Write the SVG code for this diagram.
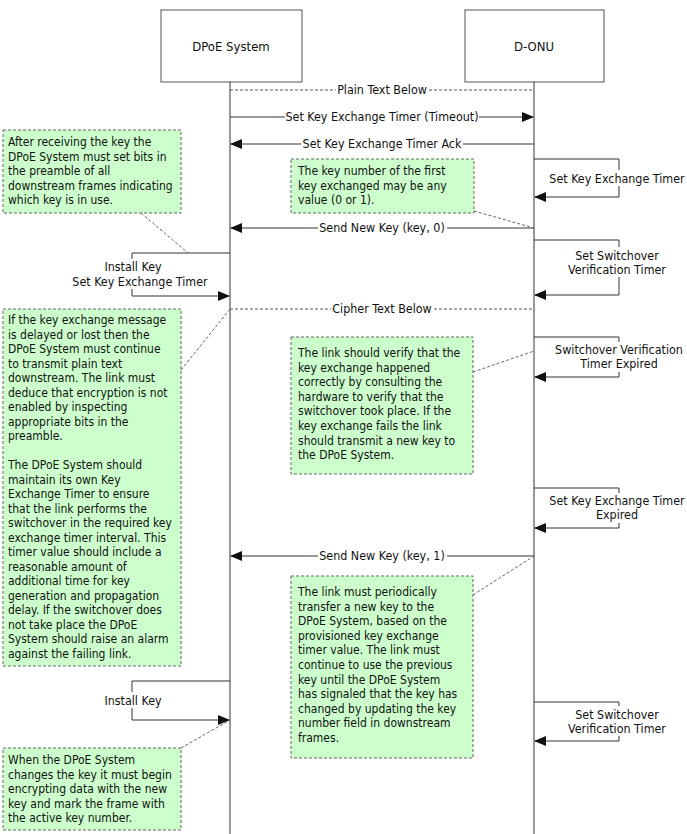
<svg xmlns="http://www.w3.org/2000/svg" width="687" height="834" viewBox="0 0 687 834">
<style>
text{font-family:"DejaVu Sans Condensed","Liberation Sans",sans-serif;font-size:12px;fill:#111}
.m{font-size:12.4px}
.h{font-size:13px}
.box{fill:#fff;stroke:#555;stroke-width:1}
.life{stroke:#333;stroke-width:1}
.msg{stroke:#333;stroke-width:1;fill:none}
.dash{stroke:#555;stroke-width:1;stroke-dasharray:3,2;fill:none}
.note{fill:#ccffcc;stroke:#666;stroke-width:1;stroke-dasharray:3,2}
.nlink{stroke:#666;stroke-width:1;stroke-dasharray:3,2;fill:none}
.c{text-anchor:middle}
</style>
<defs>
<marker id="ah" markerWidth="12" markerHeight="10" refX="11" refY="5" orient="auto" markerUnits="userSpaceOnUse">
<path d="M0,0 L12,5 L0,10 z" fill="#111"/>
</marker>
</defs>
<rect width="687" height="834" fill="#fff"/>

<g id="dpoe">
<rect class="box" x="161" y="10" width="141" height="72"/>
<text class="c h" x="231" y="51">DPoE System</text>
<line class="life" x1="230" y1="82" x2="230" y2="834"/>
</g>
<g id="donu">
<rect class="box" x="465" y="10" width="139" height="72"/>
<text class="c h" x="534" y="51">D-ONU</text>
<line class="life" x1="534" y1="82" x2="534" y2="834"/>
</g>

<g id="connectors">
<polyline class="dash" points="230,90 336,90"/><polyline class="dash" points="429,90 534,90"/>
<polyline class="msg" points="230,117 285,117"/><polyline class="msg" points="479,117 533,117" marker-end="url(#ah)"/>
<polyline class="msg" points="534,144 463,144"/><polyline class="msg" points="301,144 231,144" marker-end="url(#ah)"/>
<polyline class="msg" points="534,159 619,159 619,197 535,197" marker-end="url(#ah)"/>
<polyline class="msg" points="534,228 447,228"/><polyline class="msg" points="318,228 231,228" marker-end="url(#ah)"/>
<polyline class="msg" points="534,240 619,240 619,295 535,295" marker-end="url(#ah)"/>
<polyline class="msg" points="230,253 132,253 132,296 229,296" marker-end="url(#ah)"/>
<polyline class="dash" points="230,309 331,309"/><polyline class="dash" points="434,309 534,309"/>
<polyline class="msg" points="534,337 619,337 619,377 535,377" marker-end="url(#ah)"/>
<polyline class="msg" points="534,488 619,488 619,528 535,528" marker-end="url(#ah)"/>
<polyline class="msg" points="534,556 447,556"/><polyline class="msg" points="318,556 231,556" marker-end="url(#ah)"/>
<polyline class="msg" points="230,681 132,681 132,720 229,720" marker-end="url(#ah)"/>
<polyline class="msg" points="534,702 619,702 619,741 535,741" marker-end="url(#ah)"/>
<line class="nlink" x1="474" y1="211" x2="534" y2="228"/>
<line class="nlink" x1="141" y1="213" x2="188" y2="253"/>
<line class="nlink" x1="181" y1="370" x2="230" y2="309"/>
<line class="nlink" x1="473" y1="372" x2="534" y2="351"/>
<line class="nlink" x1="473" y1="595" x2="534" y2="556"/>
<line class="nlink" x1="181" y1="748" x2="230" y2="720"/>
</g>

<g id="labels">
<text class="c m" x="382" y="94">Plain Text Below</text>
<text class="c m" x="382" y="121">Set Key Exchange Timer (Timeout)</text>
<text class="c m" x="382" y="148">Set Key Exchange Timer Ack</text>
<text class="c m" x="382" y="232">Send New Key (key, 0)</text>
<text class="c m" x="382" y="313">Cipher Text Below</text>
<text class="c m" x="382" y="560">Send New Key (key, 1)</text>
<rect x="548" y="170" width="139" height="16" fill="#fff"/>
<text class="c m" x="617" y="183">Set Key Exchange Timer</text>
<rect x="566" y="247" width="104" height="30" fill="#fff"/>
<text class="c m" x="617" y="260">Set Switchover</text>
<text class="c m" x="617" y="274">Verification Timer</text>
<rect x="554" y="342" width="131" height="30" fill="#fff"/>
<text class="c m" x="619" y="354">Switchover Verification</text>
<text class="c m" x="619" y="368">Timer Expired</text>
<rect x="548" y="493" width="139" height="30" fill="#fff"/>
<text class="c m" x="617" y="505">Set Key Exchange Timer</text>
<text class="c m" x="617" y="519">Expired</text>
<rect x="76" y="259" width="128" height="30" fill="#fff"/>
<text class="c m" x="133" y="271">Install Key</text>
<text class="c m" x="140" y="286">Set Key Exchange Timer</text>
<rect x="100" y="692" width="66" height="16" fill="#fff"/>
<text class="c m" x="133" y="705">Install Key</text>
<rect x="566" y="706" width="104" height="30" fill="#fff"/>
<text class="c m" x="617" y="719">Set Switchover</text>
<text class="c m" x="617" y="733">Verification Timer</text>
</g>

<g id="note1">
<rect class="note" x="3" y="130" width="178" height="83"/>
<text x="8" y="146"><tspan x="8">After receiving the key the</tspan><tspan x="8" dy="14.6">DPoE System must set bits in</tspan><tspan x="8" dy="14.6">the preamble of all</tspan><tspan x="8" dy="14.6">downstream frames indicating</tspan><tspan x="8" dy="14.6">which key is in use.</tspan></text>
</g>
<g id="note2">
<rect class="note" x="291" y="159" width="183" height="54"/>
<text x="298" y="175"><tspan x="298">The key number of the first</tspan><tspan x="298" dy="14.6">key exchanged may be any</tspan><tspan x="298" dy="14.6">value (0 or 1).</tspan></text>
</g>
<g id="note3">
<rect class="note" x="3" y="309" width="178" height="357"/>
<text x="8" y="324"><tspan x="8">If the key exchange message</tspan><tspan x="8" dy="14.5">is delayed or lost then the</tspan><tspan x="8" dy="14.5">DPoE System must continue</tspan><tspan x="8" dy="14.5">to transmit plain text</tspan><tspan x="8" dy="14.5">downstream. The link must</tspan><tspan x="8" dy="14.5">deduce that encryption is not</tspan><tspan x="8" dy="14.5">enabled by inspecting</tspan><tspan x="8" dy="14.5">appropriate bits in the</tspan><tspan x="8" dy="14.5">preamble.</tspan><tspan x="8" dy="29">The DPoE System should</tspan><tspan x="8" dy="14.5">maintain its own Key</tspan><tspan x="8" dy="14.5">Exchange Timer to ensure</tspan><tspan x="8" dy="14.5">that the link performs the</tspan><tspan x="8" dy="14.5">switchover in the required key</tspan><tspan x="8" dy="14.5">exchange timer interval. This</tspan><tspan x="8" dy="14.5">timer value should include a</tspan><tspan x="8" dy="14.5">reasonable amount of</tspan><tspan x="8" dy="14.5">additional time for key</tspan><tspan x="8" dy="14.5">generation and propagation</tspan><tspan x="8" dy="14.5">delay. If the switchover does</tspan><tspan x="8" dy="14.5">not take place the DPoE</tspan><tspan x="8" dy="14.5">System should raise an alarm</tspan><tspan x="8" dy="14.5">against the failing link.</tspan></text>
</g>
<g id="note4">
<rect class="note" x="291" y="337" width="182" height="137"/>
<text x="298" y="357"><tspan x="298">The link should verify that the</tspan><tspan x="298" dy="14.6">key exchange happened</tspan><tspan x="298" dy="14.6">correctly by consulting the</tspan><tspan x="298" dy="14.6">hardware to verify that the</tspan><tspan x="298" dy="14.6">switchover took place. If the</tspan><tspan x="298" dy="14.6">key exchange fails the link</tspan><tspan x="298" dy="14.6">should transmit a new key to</tspan><tspan x="298" dy="14.6">the DPoE System.</tspan></text>
</g>
<g id="note5">
<rect class="note" x="291" y="576" width="182" height="182"/>
<text x="298" y="596"><tspan x="298">The link must periodically</tspan><tspan x="298" dy="14.6">transfer a new key to the</tspan><tspan x="298" dy="14.6">DPoE System, based on the</tspan><tspan x="298" dy="14.6">provisioned key exchange</tspan><tspan x="298" dy="14.6">timer value. The link must</tspan><tspan x="298" dy="14.6">continue to use the previous</tspan><tspan x="298" dy="14.6">key until the DPoE System</tspan><tspan x="298" dy="14.6">has signaled that the key has</tspan><tspan x="298" dy="14.6">changed by updating the key</tspan><tspan x="298" dy="14.6">number field in downstream</tspan><tspan x="298" dy="14.6">frames.</tspan></text>
</g>
<g id="note6">
<rect class="note" x="3" y="748" width="178" height="82"/>
<text x="8" y="764"><tspan x="8">When the DPoE System</tspan><tspan x="8" dy="14.6">changes the key it must begin</tspan><tspan x="8" dy="14.6">encrypting data with the new</tspan><tspan x="8" dy="14.6">key and mark the frame with</tspan><tspan x="8" dy="14.6">the active key number.</tspan></text>
</g>
</svg>
